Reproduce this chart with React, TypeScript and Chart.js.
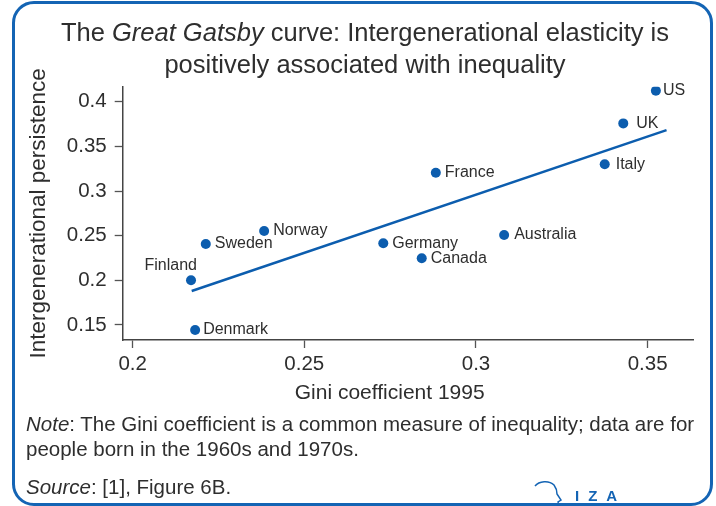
import React, { useEffect, useRef } from "react";
import { Chart, registerables } from "chart.js";

Chart.register(...registerables);

// ---- data ----
const countries = ["US", "UK", "Italy", "France", "Australia", "Germany", "Canada", "Norway", "Sweden", "Finland", "Denmark"];
const gini = [0.3524, 0.3429, 0.3375, 0.2883, 0.3082, 0.273, 0.2842, 0.2383, 0.2213, 0.217, 0.2182];
const persistence = [0.4123, 0.3757, 0.3299, 0.3205, 0.2508, 0.2415, 0.2247, 0.2553, 0.2407, 0.2, 0.1444];
const trendGini = [0.2172, 0.3555];
const trendPersistence = [0.188, 0.3682];
const xTicks = [0.2, 0.25, 0.3, 0.35];
const yTicks = [0.15, 0.2, 0.25, 0.3, 0.35, 0.4];

const titleLine1Pre = "The ";
const titleItalic = "Great Gatsby";
const titleLine1Post = " curve: Intergenerational elasticity is";
const titleLine2 = "positively associated with inequality";
const xTitle = "Gini coefficient 1995";
const yTitle = "Intergenerational persistence";

// ---- styling ----
const BLUE = "#0c5dae";
const FRAME = "#1464b4";
const TEXT = "#2e2e2e";
const FONT = '"Liberation Sans", Arial, sans-serif';

type Placement = { dx: number; dy: number; align: CanvasTextAlign };
const defaultPlacement: Placement = { dx: 9, dy: 0, align: "left" };
const labelPlacement: Record<string, Placement> = {
  US: { dx: 7, dy: 0, align: "left" },
  UK: { dx: 13, dy: 0, align: "left" },
  Italy: { dx: 11, dy: 0, align: "left" },
  Australia: { dx: 10, dy: 0, align: "left" },
  Denmark: { dx: 8, dy: 0, align: "left" },
  Finland: { dx: 6, dy: -15, align: "right" },
};

const labelPlugin = {
  id: "countryLabels",
  afterDatasetsDraw(chart: any) {
    const meta = chart.getDatasetMeta(0);
    const ctx = chart.ctx as CanvasRenderingContext2D;
    ctx.save();
    ctx.font = `16px ${FONT}`;
    ctx.fillStyle = TEXT;
    ctx.textBaseline = "middle";
    meta.data.forEach((el: any, i: number) => {
      const name = countries[i];
      const p = labelPlacement[name] || defaultPlacement;
      ctx.textAlign = p.align;
      ctx.fillText(name, el.x + p.dx, el.y + p.dy);
    });
    ctx.restore();
  },
};

export default function App() {
  const canvasRef = useRef<HTMLCanvasElement | null>(null);

  useEffect(() => {
    const canvas = canvasRef.current;
    if (!canvas) return;
    const chart = new Chart(canvas, {
      type: "scatter",
      data: {
        datasets: [
          {
            type: "scatter",
            data: gini.map((x, i) => ({ x, y: persistence[i] })),
            backgroundColor: BLUE,
            borderColor: BLUE,
            pointRadius: 5,
            pointHoverRadius: 5,
            pointBorderWidth: 0,
          } as any,
          {
            type: "line",
            data: trendGini.map((x, i) => ({ x, y: trendPersistence[i] })),
            borderColor: BLUE,
            borderWidth: 2.5,
            pointRadius: 0,
            fill: false,
            tension: 0,
          } as any,
        ],
      },
      options: {
        responsive: false,
        animation: false,
        events: [],
        layout: { padding: { left: 0, top: 86.7, right: 22.7, bottom: 0 } },
        plugins: {
          legend: { display: false },
          title: { display: false },
          tooltip: { enabled: false },
        },
        scales: {
          x: {
            type: "linear",
            position: "bottom",
            min: 0.1971,
            max: 0.3633,
            afterBuildTicks: (s: any) => {
              s.ticks = xTicks.map((v) => ({ value: v }));
            },
            afterFit: (s: any) => {
              s.height = 166;
            },
            ticks: {
              callback: (v: any) => String(v),
              font: { family: FONT, size: 20.5 },
              color: TEXT,
              padding: 4,
              maxRotation: 0,
              autoSkip: false,
            },
            grid: {
              display: true,
              drawOnChartArea: false,
              drawTicks: true,
              tickLength: 8,
              tickColor: "#555",
              tickWidth: 1.3,
            },
            border: { display: true, color: "#444", width: 1.5 },
          },
          y: {
            type: "linear",
            position: "left",
            min: 0.1332,
            max: 0.4168,
            afterBuildTicks: (s: any) => {
              s.ticks = yTicks.map((v) => ({ value: v }));
            },
            afterFit: (s: any) => {
              s.width = 122.7;
            },
            ticks: {
              callback: (v: any) => String(v),
              font: { family: FONT, size: 20.5 },
              color: TEXT,
              padding: 8,
              autoSkip: false,
            },
            grid: {
              display: true,
              drawOnChartArea: false,
              drawTicks: true,
              tickLength: 8,
              tickColor: "#555",
              tickWidth: 1.3,
            },
            border: { display: true, color: "#444", width: 1.5 },
            title: {
              display: true,
              text: yTitle,
              font: { family: FONT, size: 22.5 },
              color: TEXT,
              padding: { top: 25, bottom: 0 },
            },
          },
        },
      } as any,
      plugins: [labelPlugin],
    });
    return () => chart.destroy();
  }, []);

  return (
    <div
      style={{
        position: "absolute",
        left: 0,
        top: 0,
        width: 716,
        height: 506,
        overflow: "hidden",
        background: "#fff",
        fontFamily: FONT,
        color: TEXT,
      }}
    >
      <div
        style={{
          position: "absolute",
          left: 11.5,
          top: 0.5,
          width: 701,
          height: 505,
          boxSizing: "border-box",
          border: `3px solid ${FRAME}`,
          borderRadius: 22,
        }}
      />
      <canvas
        ref={canvasRef}
        width={716}
        height={506}
        style={{ position: "absolute", left: 0, top: 0, width: 716, height: 506 }}
      />
      <div
        style={{
          position: "absolute",
          left: 0,
          top: 15.5,
          width: 730,
          textAlign: "center",
          fontSize: 25.5,
          lineHeight: "32px",
          whiteSpace: "nowrap",
        }}
      >
        <div>
          {titleLine1Pre}
          <i>{titleItalic}</i>
          {titleLine1Post}
        </div>
        <div>{titleLine2}</div>
      </div>
      <div
        style={{
          position: "absolute",
          left: 0,
          top: 379.75,
          width: 779.4,
          textAlign: "center",
          fontSize: 21,
          lineHeight: "24px",
          whiteSpace: "nowrap",
        }}
      >
        {xTitle}
      </div>
      <div
        style={{
          position: "absolute",
          left: 26,
          top: 411.4,
          fontSize: 20.5,
          lineHeight: "25px",
          whiteSpace: "nowrap",
        }}
      >
        <div>
          <i>Note</i>: The Gini coefficient is a common measure of inequality; data are for
        </div>
        <div>people born in the 1960s and 1970s.</div>
      </div>
      <div
        style={{
          position: "absolute",
          left: 26,
          top: 474.4,
          fontSize: 20.5,
          lineHeight: "25px",
          whiteSpace: "nowrap",
        }}
      >
        <i>Source</i>: [1], Figure 6B.
      </div>
      <svg
        width={40}
        height={30}
        style={{ position: "absolute", left: 530, top: 478 }}
      >
        <path
          d="M 5 8 C 9 3, 19 2, 24 7 C 27 11, 27 14, 27 16 L 31 22 L 28 24 C 29 26, 28 28, 27 30"
          stroke={FRAME}
          strokeWidth={1.5}
          fill="none"
        />
      </svg>
      <div
        style={{
          position: "absolute",
          left: 575,
          top: 488,
          fontSize: 15,
          fontWeight: "bold",
          letterSpacing: "9px",
          lineHeight: "15px",
          color: FRAME,
          whiteSpace: "nowrap",
        }}
      >
        IZA
      </div>
    </div>
  );
}
